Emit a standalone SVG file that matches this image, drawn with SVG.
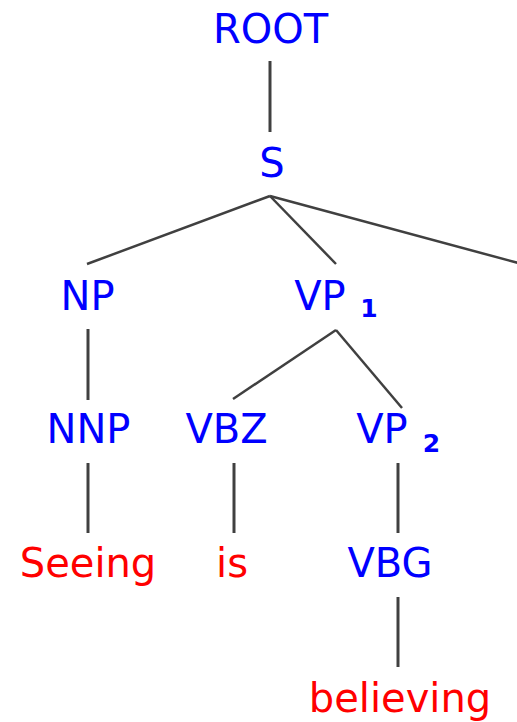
<svg xmlns="http://www.w3.org/2000/svg" width="517" height="722" viewBox="0 0 517 722">
<style>
.n{font-family:"DejaVu Sans",sans-serif;font-size:40px;fill:#0000ff;text-anchor:middle}
.w{font-family:"DejaVu Sans",sans-serif;font-size:40px;fill:#ff0000;text-anchor:middle}
.sub{font-family:"DejaVu Sans",sans-serif;font-size:25px;font-weight:bold;fill:#0000ff;text-anchor:middle}
.e line{stroke:#404040;stroke-width:2.5}
.e line.v{stroke-width:3}
</style>
<rect width="517" height="722" fill="#fff"/>
<g id="edges" class="e">
<line class="v" x1="270" y1="61" x2="270" y2="132"/>
<line x1="270" y1="196" x2="87" y2="264"/>
<line x1="270" y1="196" x2="336" y2="264"/>
<line x1="270" y1="196" x2="522" y2="264"/>
<line class="v" x1="88" y1="329" x2="88" y2="400"/>
<line x1="336" y1="330" x2="233" y2="399"/>
<line x1="336" y1="330" x2="402" y2="408"/>
<line class="v" x1="88" y1="463" x2="88" y2="533"/>
<line class="v" x1="234" y1="463" x2="234" y2="533"/>
<line class="v" x1="398" y1="463" x2="398" y2="533"/>
<line class="v" x1="398" y1="597" x2="398" y2="667"/>
</g>
<g id="root"><text class="n" x="270.5" y="43">ROOT</text></g>
<g id="s"><text class="n" x="272" y="177">S</text></g>
<g id="np"><text class="n" x="87.5" y="310">NP</text></g>
<g id="vp1"><text class="n" x="320" y="310">VP</text><text class="sub" x="369" y="317">1</text></g>
<g id="nnp"><text class="n" x="88.5" y="443">NNP</text></g>
<g id="vbz"><text class="n" x="226.5" y="443">VBZ</text></g>
<g id="vp2"><text class="n" x="382" y="443">VP</text><text class="sub" x="431.5" y="452">2</text></g>
<g id="seeing"><text class="w" x="88" y="577">Seeing</text></g>
<g id="is"><text class="w" x="232" y="577">is</text></g>
<g id="vbg"><text class="n" x="390" y="577">VBG</text></g>
<g id="believing"><text class="w" x="400" y="712">believing</text></g>
</svg>
